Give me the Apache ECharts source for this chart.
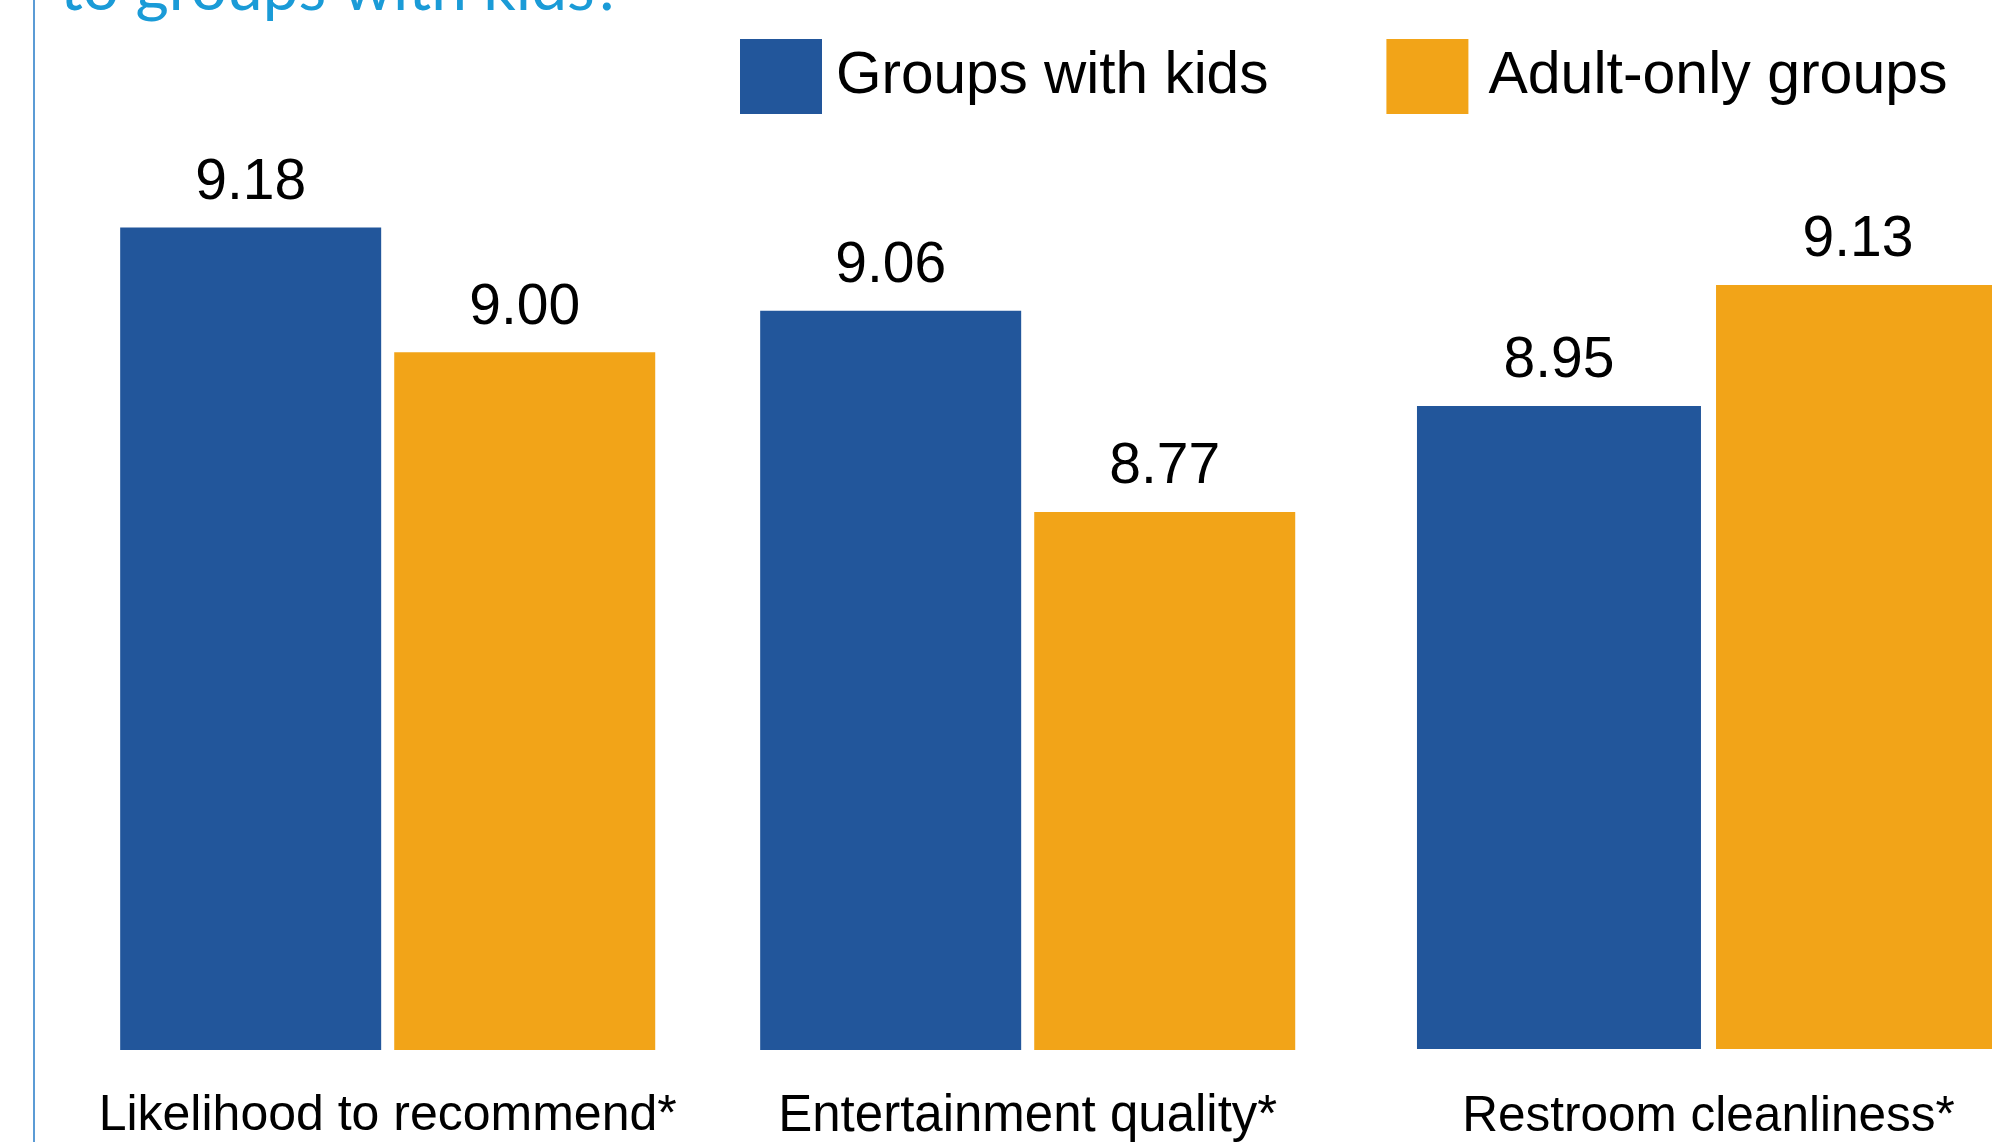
<!DOCTYPE html>
<html><head><meta charset="utf-8">
<script src="https://cdn.jsdelivr.net/npm/echarts@6/dist/echarts.min.js"></script>
<style>html,body{margin:0;padding:0;background:#fff;overflow:hidden;width:1992px;height:1142px;}#c{width:2100px;height:1142px;}</style>
</head><body><div id="c"></div>
<script>
const categories = ['Likelihood to recommend*', 'Entertainment quality*', 'Restroom cleanliness*'];
const seriesNames = ['Groups with kids', 'Adult-only groups'];
const kidsValues = [9.18, 9.06, 8.95];
const adultValues = [9.00, 8.77, 9.13];
const titleText = 'to groups with kids?';

const BLUE = '#22569b', ORANGE = '#f2a418';
const FONT = '"Liberation Sans", Arial, sans-serif';
const catFontSizes = [50, 51, 49.5];

const chart = echarts.init(document.getElementById('c'), null, {renderer: 'canvas'});
const labelCommon = {
  show: true, position: 'top', distance: 16, color: '#000',
  fontFamily: FONT, fontSize: 57, formatter: p => p.value.toFixed(2)
};
const catData = categories.map((c, i) => ({value: c, textStyle: {fontSize: catFontSizes[i]}}));
chart.setOption({
  animation: false,
  legend: {
    left: 740, top: 39, padding: 0, itemGap: 118, itemWidth: 82, itemHeight: 75,
    icon: 'rect',
    data: [
      {name: seriesNames[0]},
      {name: seriesNames[1], textStyle: {fontSize: 59, padding: [0, 0, 0, 15]}}
    ],
    textStyle: {fontFamily: FONT, fontSize: 58.5, color: '#000', padding: [0, 0, 0, 9]}
  },
  grid: [
    {left: 67.7, width: 1280, top: 5.5, height: 1049.5},
    {left: 1388.5, width: 640, top: 36, height: 1017}
  ],
  xAxis: [
    {type: 'category', gridIndex: 0, data: catData.slice(0, 2), axisLine: {show: false}, axisTick: {show: false},
     axisLabel: {margin: 41, fontFamily: FONT, fontSize: 50, color: '#000', interval: 0}},
    {type: 'category', gridIndex: 1, data: catData.slice(2), axisLine: {show: false}, axisTick: {show: false},
     axisLabel: {margin: 43, fontFamily: FONT, fontSize: 50, color: '#000', interval: 0}}
  ],
  yAxis: [
    {type: 'value', gridIndex: 0, min: 7.9943, max: 9.5, show: false},
    {type: 'value', gridIndex: 1, min: 7.9945, max: 9.5, show: false}
  ],
  graphic: [
    {type: 'line', shape: {x1: 34, y1: 0, x2: 34, y2: 1142}, style: {stroke: '#5b9bd5', lineWidth: 2}},
    {type: 'text', x: 60, y: -43, style: {text: titleText, fontFamily: 'Lato', fontSize: 64, fill: '#1a9bd7'}}
  ],
  series: [
    {name: seriesNames[0], type: 'bar', xAxisIndex: 0, yAxisIndex: 0, data: kidsValues.slice(0, 2), barWidth: 261, barGap: '5%', itemStyle: {color: BLUE}, label: labelCommon},
    {name: seriesNames[1], type: 'bar', xAxisIndex: 0, yAxisIndex: 0, data: adultValues.slice(0, 2), barWidth: 261, barGap: '5%', itemStyle: {color: ORANGE}, label: labelCommon},
    {name: seriesNames[0], type: 'bar', xAxisIndex: 1, yAxisIndex: 1, data: kidsValues.slice(2), barWidth: 284, barGap: '5.3%', itemStyle: {color: BLUE}, label: labelCommon},
    {name: seriesNames[1], type: 'bar', xAxisIndex: 1, yAxisIndex: 1, data: adultValues.slice(2), barWidth: 284, barGap: '5.3%', itemStyle: {color: ORANGE}, label: labelCommon}
  ]
});
</script></body></html>
